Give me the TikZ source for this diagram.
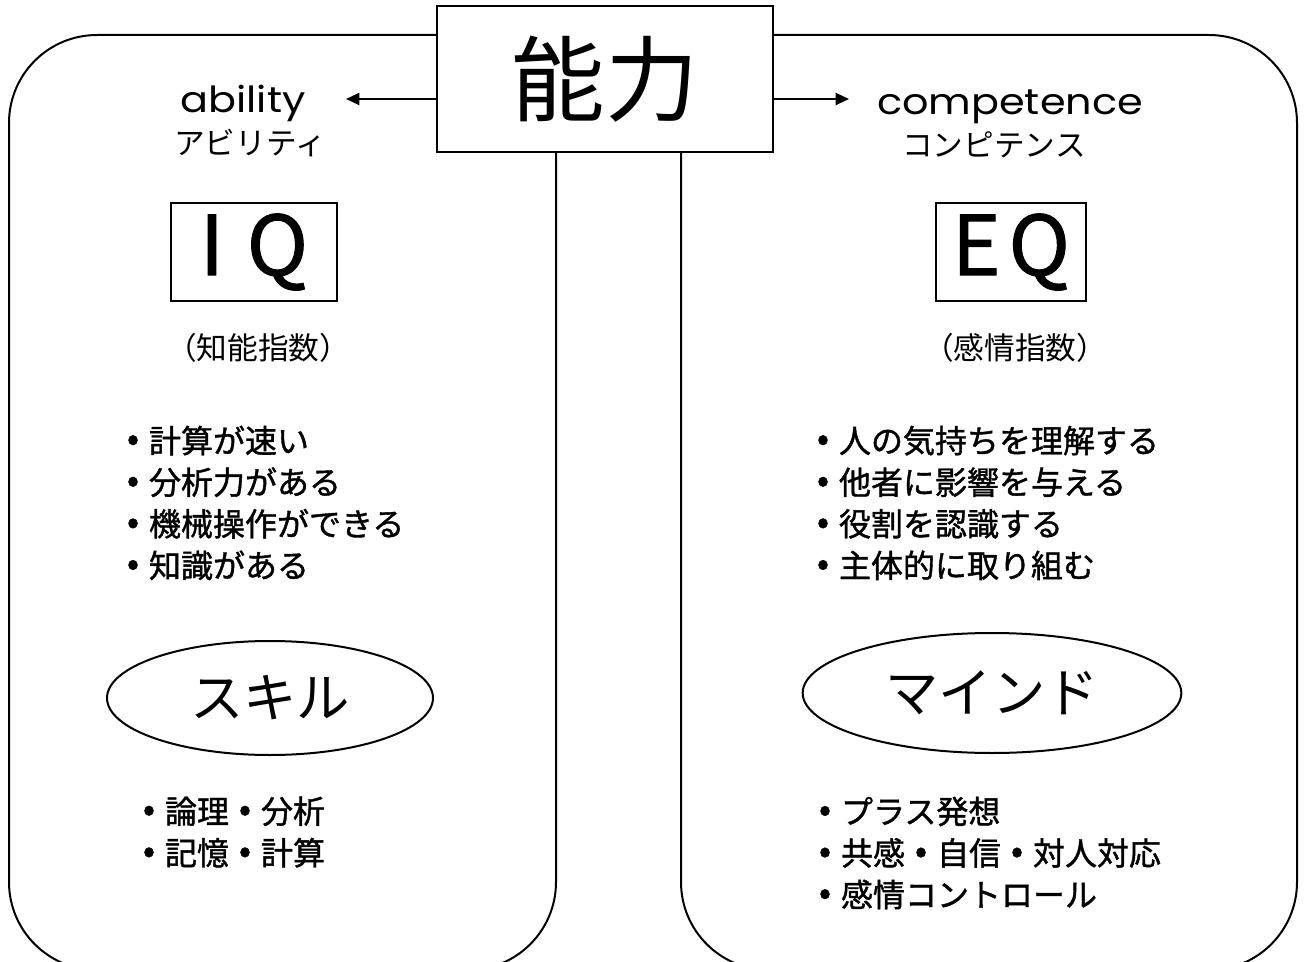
\documentclass[tikz,border=0pt]{standalone}
\usepackage{fontspec}
\setmainfont{Noto Sans CJK JP}
\newfontfamily\lat[FakeStretch=1.15]{Poppins}
\newfontfamily\jpb[FakeBold=1.2]{Noto Sans CJK JP}
\newcommand\bul{\makebox[24pt][c]{\raisebox{1.5pt}{\fontsize{27}{27}\selectfont •}}}
\usetikzlibrary{arrows.meta,shapes.geometric}
\begin{document}
\begin{tikzpicture}[x=0.75pt,y=-0.75pt,line width=1.5pt,
  panel/.style={draw,rounded corners=66pt},
  arr/.style={-{Triangle[length=10pt,width=9pt]}},
  listtxt/.style={inner sep=0pt,anchor=west,align=left,font=\jpb\fontsize{24}{31.2}\selectfont},
  sub/.style={inner sep=0pt,font=\fontsize{23}{23}\selectfont},
  eng/.style={inner sep=0pt,anchor=base,font=\lat\fontsize{27}{27}\selectfont},
  qbox/.style={draw,inner sep=0pt,minimum height=73.5pt,font=\jpb\fontsize{62}{62}\selectfont},
  oval/.style={draw,ellipse,inner sep=0pt,font=\fontsize{40}{40}\selectfont}]
\useasboundingbox (0,0) rectangle (1306,962);
\clip (0,0) rectangle (1306,962);
% panels
\draw[panel] (9,35) rectangle (556,970);
\draw[panel] (681,35) rectangle (1297,970);
% central box
\node[draw,fill=white,inner sep=0pt,minimum width=252pt,minimum height=109.5pt,
  font=\fontsize{70}{70}\selectfont] (nouryoku) at (605,79) {能力};
% headings
\node[eng] (ability) at (243,113) {ability};
\node[sub] (abilityk) at (250,143) {アビリティ};
\node[eng] (competence) at (1010,115) {competence};
\node[sub] (competencek) at (994,145) {コンピテンス};
\coordinate (abtip) at (346,99);
\coordinate (cotip) at (849,99);
\draw[arr] (nouryoku.west |- abtip) -- (abtip);
\draw[arr] (nouryoku.east |- cotip) -- (cotip);
% IQ / EQ
\node[qbox,minimum width=124.5pt] (iq) at (254,252) {I\hspace{17pt}Q};
\node[qbox,minimum width=112.5pt] (eq) at (1011,252) {E\hspace{6pt}Q};
\node[sub] (iqk) at (258,348) {（知能指数）};
\node[sub] (eqk) at (1015,348) {（感情指数）};
% upper lists
\node[listtxt] (llist) at (116,503) {\bul 計算が速い\\\bul 分析力がある\\\bul 機械操作ができる\\\bul 知識がある};
\node[listtxt] (rlist) at (806,503) {\bul 人の気持ちを理解する\\\bul 他者に影響を与える\\\bul 役割を認識する\\\bul 主体的に取り組む};
% ovals
\node[oval,minimum width=244.5pt,minimum height=85.5pt] (skill) at (270,698) {スキル};
\node[oval,minimum width=284pt,minimum height=90pt] (mind) at (992,693) {マインド};
% lower lists
\node[listtxt] (llist2) at (132,832) {\bul 論理\bul 分析\\\bul 記憶\bul 計算};
\node[listtxt] (rlist2) at (808,853) {\bul プラス発想\\\bul 共感\bul 自信\bul 対人対応\\\bul 感情コントロール};
\end{tikzpicture}
\end{document}
